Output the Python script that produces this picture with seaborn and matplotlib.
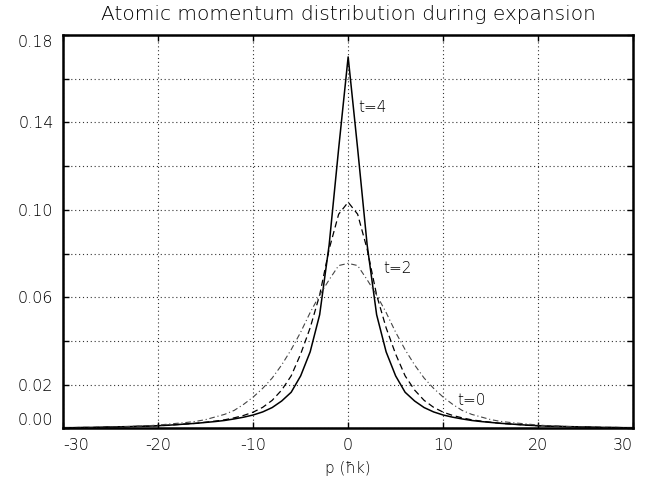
import numpy as np
import pandas as pd
import matplotlib
matplotlib.use("Agg")
import matplotlib.pyplot as plt
import seaborn as sns

# momentum grid (units of hbar k)
p = list(range(-30, 31))

# half profiles at p = 0, 1, ..., 30 (curves are symmetric)
t4_half = [0.170, 0.128, 0.084, 0.052, 0.035, 0.024, 0.0165, 0.0125, 0.0095, 0.0075,
           0.0061, 0.0051, 0.0043, 0.0036, 0.0031, 0.0027, 0.0023, 0.0020, 0.0017, 0.0014,
           0.0012, 0.0010, 0.0009, 0.0008, 0.0007, 0.0006, 0.0005, 0.0004, 0.0004, 0.0003,
           0.0003]
t2_half = [0.1035, 0.098, 0.082, 0.061, 0.046, 0.034, 0.024, 0.0175, 0.0128, 0.0096,
           0.0074, 0.0059, 0.0048, 0.0039, 0.0033, 0.0028, 0.0023, 0.0020, 0.0017, 0.0014,
           0.0012, 0.0010, 0.0009, 0.0008, 0.0007, 0.0006, 0.0005, 0.0004, 0.0004, 0.0003,
           0.0003]
t0_half = [0.0755, 0.0745, 0.068, 0.061, 0.053, 0.044, 0.036, 0.029, 0.023, 0.0183,
           0.0143, 0.0110, 0.0082, 0.0064, 0.0052, 0.0040, 0.0032, 0.0027, 0.0023, 0.0019,
           0.0015, 0.0012, 0.0010, 0.0008, 0.0007, 0.0006, 0.0005, 0.0004, 0.0003, 0.0003,
           0.0002]

t4 = t4_half[:0:-1] + t4_half
t2 = t2_half[:0:-1] + t2_half
t0 = t0_half[:0:-1] + t0_half

labels = ["t=4", "t=2", "t=0"]
label_pos = [(1.1, 0.147), (3.7, 0.0733), (11.5, 0.0129)]

xticks = [-30, -20, -10, 0, 10, 20, 30]
yticks = [0.00, 0.02, 0.04, 0.06, 0.08, 0.10, 0.12, 0.14, 0.16, 0.18]
ytick_labels = ["0.00", "0.02", "", "0.06", "", "0.10", "", "0.14", "", "0.18"]

df = pd.DataFrame({
    "p": p * 3,
    "n": t4 + t2 + t0,
    "t": ["t=4"] * len(p) + ["t=2"] * len(p) + ["t=0"] * len(p),
})

######## Plot
sns.set_theme(style="white")
plt.rcParams["font.family"] = ["DejaVu Sans"]
plt.rcParams["font.weight"] = "light"
plt.rcParams["axes.titleweight"] = "light"
plt.rcParams["axes.labelweight"] = "light"
plt.rcParams["axes.unicode_minus"] = False
for k in ["text.color", "axes.labelcolor", "xtick.color", "ytick.color"]:
    plt.rcParams[k] = "black"

fig = plt.figure(figsize=(6.57, 4.87), dpi=100)
ax = fig.add_axes([0.0963, 0.1205, 0.8672, 0.8075])

sns.lineplot(data=df, x="p", y="n", hue="t", style="t",
             palette={"t=4": "black", "t=2": "black", "t=0": "#444444"},
             dashes={"t=4": "", "t=2": (5, 3), "t=0": (5, 2.5, 1, 2.5)},
             size="t", sizes={"t=4": 1.1, "t=2": 0.9, "t=0": 0.8},
             legend=False, ax=ax)

#! axes
ax.set_xlim(-30, 30)
ax.set_ylim(0, 0.18)
ax.set_xticks(xticks)
ax.set_xticklabels([str(v) for v in xticks])
ax.set_yticks(yticks)
ax.set_yticklabels(ytick_labels)
ax.grid(True, color="#333333", linestyle=(0, (1, 2.5)), linewidth=0.8)
for s in ax.spines.values():
    s.set_color("black")
    s.set_linewidth(1.8)
ax.tick_params(direction="in", length=4, width=1, colors="black",
               labelsize=11.5, pad=7, top=True, right=True,
               left=True, bottom=True)

xl = ax.get_xticklabels()
xl[0].set_horizontalalignment("left")
xl[-1].set_horizontalalignment("right")
yl = ax.get_yticklabels()
yl[0].set_verticalalignment("bottom")
yl[-1].set_verticalalignment("top")

ax.set_xlabel("p (ħk)", fontsize=11, labelpad=6, fontweight="light")
ax.set_ylabel("")
ax.set_title("Atomic momentum distribution during expansion", fontsize=14.5, pad=11,
             fontweight="light")

#! curve labels
for lab, (x, y) in zip(labels, label_pos):
    ax.text(x, y, lab, fontsize=11, va="center", ha="left", fontweight="light")

plt.savefig("out.png", dpi=100)
